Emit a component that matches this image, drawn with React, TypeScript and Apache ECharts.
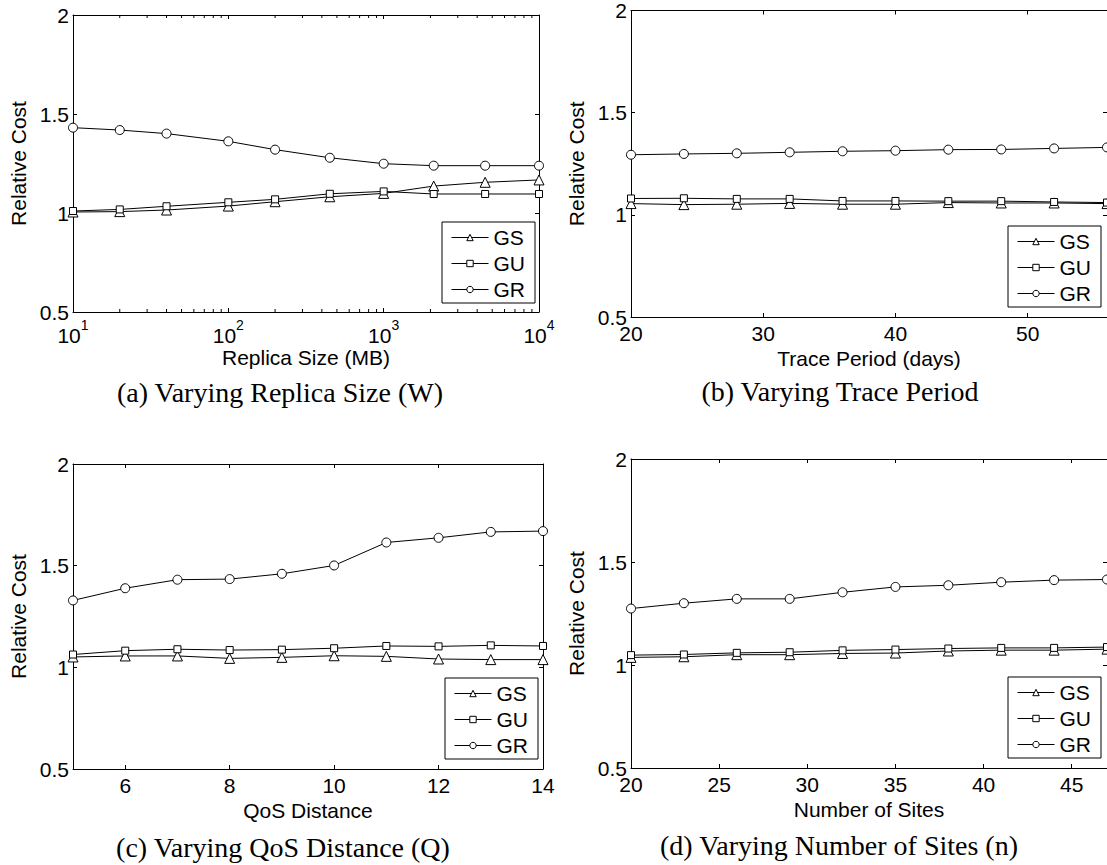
import React, { useEffect, useRef } from 'react';
import * as echarts from 'echarts';

const FONT = '"Liberation Sans", Arial, Helvetica, sans-serif';
const SERIF = '"Liberation Serif", "Times New Roman", serif';

const seriesNames = ['GS', 'GU', 'GR'];
const seriesSymbols = ['triangle', 'rect', 'circle'];
const symbolSizes = [10, 7, 9];
const yTickLabels = ['0.5', '1', '1.5', '2'];

// (a) Varying Replica Size (W)
const replicaSizes = [10, 20, 40, 100, 200, 450, 1000, 2100, 4500, 10000];
const replicaGS = [1.005, 1.007, 1.015, 1.035, 1.057, 1.082, 1.099, 1.136, 1.155, 1.167];
const replicaGU = [1.01, 1.018, 1.034, 1.054, 1.069, 1.097, 1.109, 1.096, 1.096, 1.096];
const replicaGR = [1.431, 1.419, 1.401, 1.362, 1.32, 1.279, 1.249, 1.239, 1.239, 1.239];

// (b) Varying Trace Period
const tracePeriods = [20, 24, 28, 32, 36, 40, 44, 48, 52, 56];
const traceGS = [1.055, 1.05, 1.052, 1.056, 1.052, 1.052, 1.06, 1.058, 1.058, 1.055];
const traceGU = [1.08, 1.081, 1.078, 1.078, 1.068, 1.068, 1.067, 1.067, 1.063, 1.06];
const traceGR = [1.294, 1.298, 1.301, 1.306, 1.311, 1.314, 1.319, 1.32, 1.325, 1.33];
const traceTicks = [20, 30, 40, 50];

// (c) Varying QoS Distance (Q)
const qosDistances = [5, 6, 7, 8, 9, 10, 11, 12, 13, 14];
const qosGS = [1.051, 1.056, 1.056, 1.044, 1.049, 1.057, 1.054, 1.041, 1.038, 1.038];
const qosGU = [1.063, 1.082, 1.089, 1.085, 1.087, 1.094, 1.105, 1.103, 1.108, 1.105];
const qosGR = [1.329, 1.389, 1.431, 1.434, 1.46, 1.501, 1.614, 1.637, 1.666, 1.67];
const qosTicks = [6, 8, 10, 12, 14];

// (d) Varying Number of Sites (n)
const siteCounts = [20, 23, 26, 29, 32, 35, 38, 41, 44, 47];
const sitesGS = [1.037, 1.04, 1.05, 1.05, 1.056, 1.058, 1.068, 1.072, 1.072, 1.077];
const sitesGU = [1.048, 1.051, 1.059, 1.062, 1.071, 1.075, 1.08, 1.083, 1.083, 1.087];
const sitesGR = [1.274, 1.3, 1.321, 1.321, 1.353, 1.379, 1.387, 1.402, 1.412, 1.415];
const siteTicks = [20, 25, 30, 35, 40, 45];

const captions = [
  '(a) Varying Replica Size (W)',
  '(b) Varying Trace Period',
  '(c) Varying QoS Distance (Q)',
  '(d) Varying Number of Sites (n)',
];
const xNames = ['Replica Size (MB)', 'Trace Period (days)', 'QoS Distance', 'Number of Sites'];

type Panel = {
  x: number[];
  ys: number[][];
  xType: 'log' | 'value';
  xMin: number;
  xMax: number;
  xInterval?: number;
  ticks?: number[];
  grid: { left: number; top: number; width: number; height: number };
  nameGap: number;
  legend: [number, number];
  cap: [number, number];
};

const panels: Panel[] = [
  {
    x: replicaSizes, ys: [replicaGS, replicaGU, replicaGR], xType: 'log', xMin: 10, xMax: 10000,
    grid: { left: 73, top: 15, width: 466, height: 297 }, nameGap: 27, legend: [442, 222], cap: [280, 392],
  },
  {
    x: tracePeriods, ys: [traceGS, traceGU, traceGR], xType: 'value', xMin: 20, xMax: 56, xInterval: 10, ticks: traceTicks,
    grid: { left: 631, top: 8, width: 476, height: 309 }, nameGap: 31, legend: [1008, 226], cap: [840, 391],
  },
  {
    x: qosDistances, ys: [qosGS, qosGU, qosGR], xType: 'value', xMin: 5, xMax: 14, xInterval: 1, ticks: qosTicks,
    grid: { left: 73, top: 464, width: 470, height: 305 }, nameGap: 31, legend: [445, 678], cap: [283, 847],
  },
  {
    x: siteCounts, ys: [sitesGS, sitesGU, sitesGR], xType: 'value', xMin: 20, xMax: 47, xInterval: 5, ticks: siteTicks,
    grid: { left: 631, top: 459, width: 476, height: 309 }, nameGap: 31, legend: [1008, 677], cap: [839, 845],
  },
];

// minor tick positions on the log axis (2..9 per decade)
const minorLogTicks: number[] = [];
[10, 100, 1000].forEach((d) => {
  for (let k = 2; k <= 9; k++) minorLogTicks.push(k * d);
});

const textBase = { color: '#000', fontFamily: FONT, fontSize: 21 };

export default function App() {
  const ref = useRef<HTMLDivElement>(null);
  useEffect(() => {
    if (!ref.current) return;
    const chart = echarts.init(ref.current, undefined, { renderer: 'svg' });

    const xAxis: any[] = [];
    const yAxis: any[] = [];
    const series: any[] = [];
    const legend: any[] = [];
    const graphic: any[] = [];

    panels.forEach((p, i) => {
      const tickCfg: any = { show: true, inside: true, length: 4, lineStyle: { color: '#000', width: 1 } };
      if (p.ticks) tickCfg.customValues = p.ticks;
      const common: any = {
        type: p.xType,
        gridIndex: i,
        min: p.xMin,
        max: p.xMax,
        splitLine: { show: false },
        axisLine: { show: true, onZero: false, lineStyle: { color: '#000', width: 1 } },
        axisTick: tickCfg,
      };
      if (p.xType === 'log') common.logBase = 10;
      else common.interval = p.xInterval;

      const labelCfg: any = { ...textBase, margin: 6 };
      if (p.ticks) labelCfg.customValues = p.ticks;
      if (p.xType === 'log') {
        labelCfg.formatter = (v: number) => `{b|10}{s|${Math.round(Math.log10(v))}}`;
        labelCfg.rich = {
          b: { ...textBase, fontSize: 21, verticalAlign: 'bottom', lineHeight: 28 },
          s: { ...textBase, fontSize: 14, verticalAlign: 'top', lineHeight: 28 },
        };
      }
      xAxis.push({
        ...common,
        position: 'bottom',
        axisLabel: labelCfg,
        name: xNames[i],
        nameLocation: 'middle',
        nameGap: p.nameGap,
        nameTextStyle: { ...textBase },
      });
      xAxis.push({ ...common, position: 'top', axisLabel: { show: false } });

      const ycommon: any = {
        type: 'value',
        gridIndex: i,
        min: 0.5,
        max: 2,
        interval: 0.5,
        splitLine: { show: false },
        axisLine: { show: true, onZero: false, lineStyle: { color: '#000', width: 1 } },
        axisTick: { show: true, inside: true, length: 4, lineStyle: { color: '#000', width: 1 } },
      };
      yAxis.push({
        ...ycommon,
        position: 'left',
        axisLabel: {
          ...textBase,
          margin: 4,
          formatter: (v: number) => yTickLabels[Math.round((v - 0.5) / 0.5)] ?? String(v),
        },
        name: 'Relative Cost',
        nameLocation: 'middle',
        nameGap: 44,
        nameTextStyle: { ...textBase },
      });
      yAxis.push({ ...ycommon, position: 'right', axisLabel: { show: false } });

      seriesNames.forEach((name, k) => {
        series.push({
          type: 'line',
          name,
          xAxisIndex: 2 * i,
          yAxisIndex: 2 * i,
          data: p.x.map((xv, j) => [xv, p.ys[k][j]]),
          symbol: seriesSymbols[k],
          symbolSize: symbolSizes[k],
          showAllSymbol: true,
          clip: false,
          lineStyle: { color: '#000', width: 1 },
          itemStyle: { color: '#fff', borderColor: '#000', borderWidth: 1 },
          emphasis: { disabled: true },
          z: 3 + k,
        });
      });

      legend.push({
        orient: 'vertical',
        left: p.legend[0],
        top: p.legend[1],
        data: seriesNames,
        itemWidth: 37,
        itemHeight: 8,
        itemGap: 5,
        padding: [5, 10, 3, 9],
        borderColor: '#000',
        borderWidth: 1,
        borderRadius: 0,
        backgroundColor: '#fff',
        selectedMode: false,
        itemStyle: { color: '#fff', borderColor: '#000', borderWidth: 1 },
        lineStyle: { color: '#000', width: 1 },
        textStyle: { ...textBase },
        z: 20,
      });

      graphic.push({
        type: 'text',
        x: p.cap[0],
        y: p.cap[1],
        style: {
          text: captions[i],
          fill: '#000',
          font: `28px ${SERIF}`,
          textAlign: 'center',
          textVerticalAlign: 'middle',
        },
      });
    });

    // minor ticks of the log axis (bottom and top)
    series.push({
      type: 'custom',
      xAxisIndex: 0,
      yAxisIndex: 0,
      silent: true,
      clip: false,
      data: minorLogTicks.map((v) => [v, 0.5]),
      renderItem: (params: any, api: any) => {
        const v = api.value(0);
        const b = api.coord([v, 0.5]);
        const t = api.coord([v, 2]);
        return {
          type: 'group',
          children: [
            { type: 'line', shape: { x1: b[0], y1: b[1], x2: b[0], y2: b[1] - 3 }, style: { stroke: '#000', lineWidth: 1 } },
            { type: 'line', shape: { x1: t[0], y1: t[1], x2: t[0], y2: t[1] + 3 }, style: { stroke: '#000', lineWidth: 1 } },
          ],
        };
      },
    });

    chart.setOption({
      animation: false,
      backgroundColor: '#fff',
      grid: panels.map((p) => ({ ...p.grid, containLabel: false })),
      xAxis,
      yAxis,
      legend,
      series,
      graphic,
    });
    return () => chart.dispose();
  }, []);

  return (
    <div
      ref={ref}
      style={{ position: 'absolute', left: 0, top: 0, width: 1107, height: 865, background: '#fff', overflow: 'hidden' }}
    />
  );
}
